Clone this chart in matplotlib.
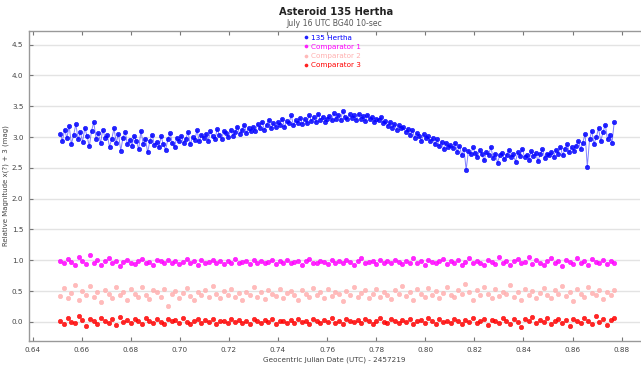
import numpy as np
import matplotlib
matplotlib.use("Agg")
import matplotlib.pyplot as plt

# ---------- Datos ----------
t_start = 0.6512
t_end = 0.8770

hertha = [
    3.05, 2.94, 3.12, 2.98, 3.18, 2.89, 3.03, 3.21, 2.96, 3.08,
    2.92, 3.15, 3.01, 2.85, 3.10, 3.24, 2.97, 3.06, 2.90, 3.12, 2.99,
    3.03, 2.84, 2.97, 3.14, 2.91, 3.05, 2.78, 2.99, 3.08, 2.88, 2.95,
    2.86, 3.02, 2.93, 2.80, 3.10, 2.89, 2.97, 2.75, 2.94, 3.04, 2.87,
    2.92, 2.83, 3.01, 2.88, 2.79, 2.96, 3.06, 2.90, 2.84, 2.99, 2.93,
    3.02, 2.90, 2.97, 3.08, 2.88, 3.00, 2.95, 3.11, 2.93, 3.04, 2.98,
    3.05, 2.94, 3.09, 3.01, 2.96, 3.13, 3.03, 2.97, 3.10, 3.06, 3.00,
    3.12, 3.02, 3.08, 3.17, 3.05, 3.11, 3.20, 3.07, 3.14, 3.09, 3.16,
    3.10, 3.21, 3.15, 3.25, 3.12, 3.19, 3.28, 3.14, 3.22, 3.17, 3.24,
    3.20, 3.30, 3.16, 3.26, 3.22, 3.35, 3.19, 3.27, 3.23, 3.31, 3.21,
    3.29, 3.22, 3.36, 3.26, 3.32, 3.24, 3.38, 3.28, 3.33, 3.25, 3.30,
    3.34, 3.27, 3.39, 3.30, 3.36, 3.28, 3.42, 3.32, 3.29, 3.37, 3.31,
    3.35, 3.28, 3.38, 3.30, 3.34, 3.26, 3.36, 3.29, 3.32, 3.24, 3.30,
    3.27, 3.33, 3.22, 3.26, 3.18, 3.24, 3.15, 3.21, 3.12, 3.19, 3.14,
    3.16, 3.08, 3.13, 3.04, 3.11, 2.99, 3.06, 3.02, 2.94, 3.05, 2.98,
    3.01, 2.93, 2.98, 2.88, 2.96, 2.85, 2.92, 2.80, 2.90, 2.84, 2.87,
    2.82, 2.91, 2.76, 2.86, 2.70, 2.80, 2.47, 2.78, 2.72, 2.83, 2.74,
    2.68, 2.79, 2.72, 2.62, 2.76, 2.70, 2.84, 2.66, 2.73, 2.58, 2.71,
    2.74, 2.64, 2.70, 2.79, 2.67, 2.72, 2.60, 2.75, 2.69, 2.81, 2.68,
    2.71, 2.63, 2.77, 2.69, 2.74, 2.61, 2.72, 2.80, 2.66, 2.73, 2.70,
    2.76, 2.68, 2.79, 2.73, 2.84, 2.70, 2.81, 2.88, 2.75, 2.83, 2.78,
    2.86, 2.94, 2.80, 2.91, 3.05, 2.52, 2.96, 3.10, 2.89, 3.00, 3.14,
    2.93, 3.08, 3.20, 2.96, 3.04, 2.91, 3.24,
]

comp1 = [
    0.99, 0.95, 1.02, 0.97, 0.93, 1.05, 0.98, 0.94, 1.08, 0.96,
    1.00, 0.92, 0.98, 1.03, 0.95, 0.99, 0.90, 0.97, 1.01, 0.96,
    0.94, 0.99, 1.02, 0.95, 0.97, 0.93, 1.00, 0.98, 0.95, 1.01,
    0.96, 0.99, 0.94, 0.97, 1.02, 0.95, 0.98, 0.93, 1.00, 0.96,
    0.97, 1.01, 0.95, 0.98, 0.94, 0.99, 0.96, 1.02, 0.95, 0.97,
    0.98, 0.94, 1.00, 0.96, 0.99, 0.95, 0.97, 1.01, 0.94, 0.98,
    0.96, 1.00, 0.95, 0.97, 0.99, 0.93, 0.98, 1.02, 0.96, 0.95,
    0.99, 0.97, 0.94, 1.01, 0.96, 0.98, 0.95, 1.00, 0.97, 0.93,
    0.98, 1.03, 0.95, 0.97, 0.99, 0.94, 1.00, 0.96, 0.98, 0.95,
    1.01, 0.97, 0.94, 0.99, 0.96, 1.04, 0.95, 0.98, 0.93, 1.00,
    0.97, 0.95, 0.99, 1.02, 0.94, 0.98, 0.96, 1.00, 0.93, 0.97,
    1.03, 0.95, 0.99, 0.96, 0.92, 1.01, 0.97, 0.94, 1.05, 0.96,
    0.99, 0.93, 0.98, 1.02, 0.95, 0.97, 1.06, 0.94, 1.00, 0.96,
    0.92, 0.99, 1.03, 0.95, 0.98, 0.91, 1.01, 0.97, 0.94, 1.04,
    0.96, 0.99, 0.93, 1.02, 0.97, 0.95, 1.00, 0.94, 0.98, 0.96,
]

comp2 = [
    0.42, 0.55, 0.38, 0.47, 0.60, 0.35, 0.50, 0.44, 0.58, 0.40,
    0.48, 0.33, 0.52, 0.45, 0.39, 0.56, 0.43, 0.49, 0.36, 0.53,
    0.46, 0.41, 0.57, 0.44, 0.37, 0.51, 0.48, 0.40, 0.54, 0.26,
    0.45, 0.50, 0.39, 0.47, 0.55, 0.42, 0.36, 0.49, 0.44, 0.52,
    0.41, 0.58, 0.46, 0.38, 0.50, 0.43, 0.53, 0.40, 0.47, 0.35,
    0.48, 0.44, 0.56, 0.41, 0.49, 0.37, 0.52, 0.45, 0.42, 0.54,
    0.39, 0.47, 0.50, 0.43, 0.36, 0.51, 0.46, 0.40, 0.55, 0.44,
    0.48, 0.38, 0.53, 0.42, 0.49, 0.45, 0.34, 0.50, 0.43, 0.57,
    0.41, 0.47, 0.52, 0.39, 0.46, 0.54, 0.40, 0.48, 0.44, 0.37,
    0.51, 0.45, 0.59, 0.42, 0.49, 0.36, 0.53, 0.46, 0.41, 0.55,
    0.43, 0.50, 0.38, 0.47, 0.56, 0.44, 0.40, 0.52, 0.45, 0.61,
    0.48, 0.35, 0.51, 0.43, 0.57, 0.46, 0.39, 0.53, 0.42, 0.49,
    0.45, 0.60, 0.41, 0.48, 0.36, 0.54, 0.44, 0.50, 0.39, 0.47,
    0.55, 0.43, 0.38, 0.51, 0.46, 0.58, 0.42, 0.49, 0.34, 0.53,
    0.45, 0.40, 0.56, 0.47, 0.43, 0.51, 0.37, 0.48, 0.44, 0.52,
]

comp3 = [
    0.02, -0.04, 0.06, 0.00, -0.02, 0.09, 0.03, -0.06, 0.05, 0.01,
    -0.03, 0.07, 0.02, -0.01, 0.04, -0.05, 0.08, 0.00, 0.03, -0.02,
    0.05, 0.01, -0.04, 0.06, 0.02, -0.01, 0.04, 0.00, -0.03, 0.05,
    0.01, 0.03, -0.02, 0.06, 0.00, -0.04, 0.02, 0.04, -0.01, 0.03,
    0.00, 0.05, -0.03, 0.02, 0.01, -0.02, 0.04, 0.00, 0.03, -0.01,
    0.02, -0.04, 0.05, 0.01, -0.02, 0.03, 0.00, 0.04, -0.03, 0.02,
    0.01, -0.01, 0.03, -0.02, 0.05, 0.00, 0.02, -0.03, 0.04, 0.01,
    -0.02, 0.03, 0.00, 0.06, -0.01, 0.02, -0.04, 0.04, 0.01, 0.00,
    0.03, -0.02, 0.05, 0.01, -0.03, 0.02, 0.07, 0.00, -0.01, 0.04,
    0.02, -0.02, 0.03, 0.00, 0.05, -0.04, 0.01, 0.03, -0.01, 0.06,
    0.02, -0.03, 0.04, 0.00, 0.02, -0.02, 0.05, 0.01, -0.04, 0.03,
    0.00, 0.06, -0.02, 0.02, 0.04, -0.05, 0.03, 0.01, -0.01, 0.07,
    0.02, -0.03, 0.05, 0.00, -0.08, 0.04, 0.01, 0.08, -0.02, 0.03,
    0.00, 0.06, -0.04, 0.02, 0.05, -0.01, 0.03, -0.07, 0.04, 0.01,
    -0.02, 0.06, 0.02, -0.03, 0.09, 0.00, 0.04, -0.05, 0.03, 0.07,
]

labels = ["135 Hertha", "Comparator 1", "Comparator 2", "Comparator 3"]
colors = ["#0000ff", "#ff00ff", "#ffb0b0", "#ff0000"]

xticks = [0.64, 0.66, 0.68, 0.70, 0.72, 0.74, 0.76, 0.78, 0.80, 0.82, 0.84, 0.86, 0.88]
yticks = [0.0, 0.5, 1.0, 1.5, 2.0, 2.5, 3.0, 3.5, 4.0, 4.5]

# ---------- Figura ----------
W, H = 641, 368
fig = plt.figure(figsize=(W / 100, H / 100), dpi=100)
ax = fig.add_axes([29 / W, 1 - 341 / H, (640 - 29) / W, (341 - 31) / H])

series = [hertha, comp1, comp2, comp3]
for vals, lab, col in zip(series, labels, colors):
    t = np.linspace(t_start, t_end, len(vals))
    if lab == "135 Hertha":
        ax.plot(t, vals, "-", color=col, lw=0.7, alpha=0.5, zorder=2)
    ax.plot(t, vals, ls="none", marker="o", ms=3.2, mew=0.4,
            color=col, mec=col, alpha=0.85, label=lab, zorder=3)

ax.set_xlim(0.6385, 0.8875)
ax.set_ylim(-0.31, 4.72)
ax.set_xticks(xticks)
ax.set_yticks(yticks)
ax.set_xticklabels([f"{v:.2f}" for v in xticks])
ax.set_yticklabels([f"{v:.1f}" for v in yticks])
ax.grid(axis="y", color="#e3e3e3", lw=1.0, zorder=0)
ax.set_axisbelow(True)

ax.tick_params(direction="in", length=3, width=0.8, color="#777777",
               labelsize=5.2, labelcolor="#444444", top=True, pad=4)
for side in ["left", "bottom", "top"]:
    ax.spines[side].set_color("#999999")
    ax.spines[side].set_linewidth(1.0)
ax.spines["right"].set_visible(False)

ax.set_xlabel("Geocentric Julian Date (UTC) - 2457219", fontsize=5.2,
              color="#444444", labelpad=3)
ax.set_ylabel("Relative Magnitude x(?) + 3 (mag)", fontsize=5.0,
              color="#444444", labelpad=2)

leg = ax.legend(loc="upper center", bbox_to_anchor=(0.497, 1.005), frameon=False,
                fontsize=5.2, labelcolor="linecolor", handlelength=0.4,
                handletextpad=0.5, labelspacing=0.45, markerscale=0.7,
                borderpad=0.2)

fig.text(0.524, 1 - 12 / H, "Asteroid 135 Hertha", ha="center", va="center",
         fontsize=7.2, fontweight="bold", color="#222222")
fig.text(0.522, 1 - 24 / H, "July 16 UTC BG40 10-sec", ha="center", va="center",
         fontsize=5.6, color="#555555")

plt.savefig("out.png", dpi=100)
